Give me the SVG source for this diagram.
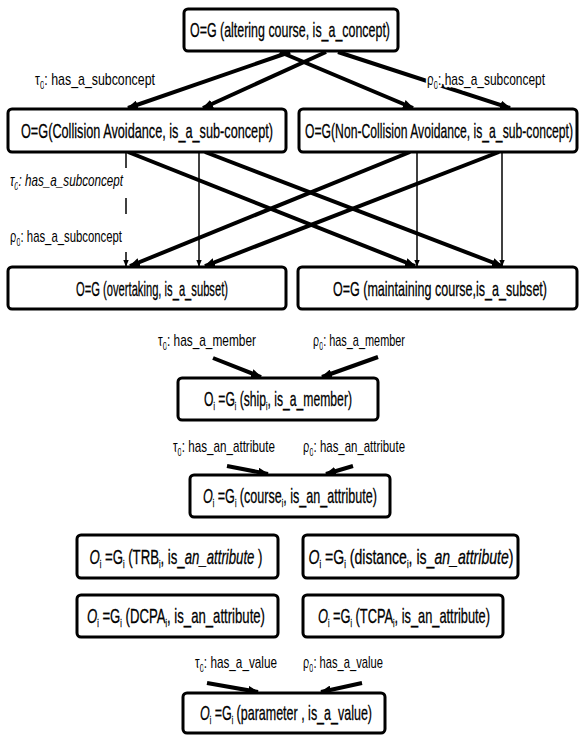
<svg xmlns="http://www.w3.org/2000/svg" width="580" height="735" viewBox="0 0 580 735">
<defs>
<marker id="ah" viewBox="0 0 10 8" refX="9" refY="4" markerWidth="11" markerHeight="9" markerUnits="userSpaceOnUse" orient="auto"><path d="M0,0 L10,4 L0,8 z" fill="#000"/></marker>
<marker id="ahs" viewBox="0 0 10 8" refX="9" refY="4" markerWidth="7" markerHeight="6" markerUnits="userSpaceOnUse" orient="auto"><path d="M0,0 L10,4 L0,8 z" fill="#000"/></marker>
</defs>
<style>
rect.box{fill:#fff;stroke:#000;stroke-width:3}
text{font-family:"Liberation Sans Narrow","Liberation Sans","DejaVu Sans",sans-serif;font-stretch:condensed;fill:#000}
.bt{font-size:21px;stroke:#000;stroke-width:0.3px}
.lb{font-size:17px;paint-order:stroke;stroke:#fff;stroke-width:5px;stroke-linejoin:round}
.sub{font-size:11px}
.thick{stroke:#000;stroke-width:4;fill:none;marker-end:url(#ah)}
.thin{stroke:#000;stroke-width:1.5;fill:none;marker-end:url(#ahs)}
.thinn{stroke:#000;stroke-width:1.5;fill:none}
</style>
<rect width="580" height="735" fill="#fff"/>

<g id="connectors">
<line class="thick" x1="290" y1="52" x2="128" y2="108"/>
<line class="thick" x1="326" y1="52" x2="203" y2="108"/>
<line class="thick" x1="280" y1="52" x2="413" y2="108"/>
<line class="thick" x1="338" y1="52" x2="510" y2="108"/>
<line class="thick" x1="128" y1="152" x2="415" y2="266"/>
<line class="thick" x1="205" y1="152" x2="502" y2="266"/>
<line class="thick" x1="410" y1="152" x2="130" y2="266"/>
<line class="thick" x1="499" y1="152" x2="205" y2="266"/>
<line class="thin" x1="199" y1="152" x2="199" y2="266"/>
<line class="thin" x1="417" y1="152" x2="417" y2="266"/>
<line class="thin" x1="502" y1="152" x2="502" y2="266"/>
<line class="thinn" x1="126" y1="152" x2="126" y2="168"/>
<line class="thinn" x1="126" y1="198" x2="126" y2="214"/>
<line class="thin" x1="126" y1="252" x2="126" y2="266"/>
<line class="thick" x1="213" y1="358" x2="261" y2="377"/>
<line class="thick" x1="378" y1="357" x2="322" y2="377"/>
<line class="thick" x1="227" y1="466" x2="268" y2="474"/>
<line class="thick" x1="353" y1="466" x2="326" y2="474"/>
<line class="thick" x1="207" y1="683" x2="258" y2="692"/>
<line class="thick" x1="362" y1="683" x2="321" y2="692"/>
</g>

<g id="labels">
<text class="lb" x="35" y="85" textLength="120" lengthAdjust="spacingAndGlyphs">τ<tspan class="sub" dy="4">0</tspan><tspan dy="-4">: has_a_subconcept</tspan></text>
<text class="lb" x="427" y="85" textLength="118" lengthAdjust="spacingAndGlyphs">ρ<tspan class="sub" dy="4">0</tspan><tspan dy="-4">: has_a_subconcept</tspan></text>
<text class="lb" x="10" y="186" textLength="113" lengthAdjust="spacingAndGlyphs" font-style="italic">τ<tspan class="sub" dy="4">0</tspan><tspan dy="-4">: has_a_subconcept</tspan></text>
<text class="lb" x="10" y="242" textLength="112" lengthAdjust="spacingAndGlyphs">ρ<tspan class="sub" dy="4">0</tspan><tspan dy="-4">: has_a_subconcept</tspan></text>
<text class="lb" x="158" y="346" textLength="98" lengthAdjust="spacingAndGlyphs">τ<tspan class="sub" dy="4">0</tspan><tspan dy="-4">: has_a_member</tspan></text>
<text class="lb" x="313" y="346" textLength="92" lengthAdjust="spacingAndGlyphs">ρ<tspan class="sub" dy="4">0</tspan><tspan dy="-4">: has_a_member</tspan></text>
<text class="lb" x="173" y="452" textLength="102" lengthAdjust="spacingAndGlyphs">τ<tspan class="sub" dy="4">0</tspan><tspan dy="-4">: has_an_attribute</tspan></text>
<text class="lb" x="303" y="452" textLength="102" lengthAdjust="spacingAndGlyphs">ρ<tspan class="sub" dy="4">0</tspan><tspan dy="-4">: has_an_attribute</tspan></text>
<text class="lb" x="195" y="668" textLength="82" lengthAdjust="spacingAndGlyphs">τ<tspan class="sub" dy="4">0</tspan><tspan dy="-4">: has_a_value</tspan></text>
<text class="lb" x="303" y="668" textLength="80" lengthAdjust="spacingAndGlyphs">ρ<tspan class="sub" dy="4">0</tspan><tspan dy="-4">: has_a_value</tspan></text>
</g>

<g id="n-altering">
<rect class="box" x="184" y="9" width="214" height="42" rx="4"/>
<text class="bt" x="290" y="37" text-anchor="middle" textLength="200" lengthAdjust="spacingAndGlyphs">O=G (altering course, is_a_concept)</text>
</g>
<g id="n-collision">
<rect class="box" x="8" y="109" width="278" height="43" rx="4"/>
<text class="bt" x="147" y="138" text-anchor="middle" textLength="252" lengthAdjust="spacingAndGlyphs">O=G(Collision Avoidance, is_a_sub-concept)</text>
</g>
<g id="n-noncollision">
<rect class="box" x="299" y="109" width="278" height="43" rx="4"/>
<text class="bt" x="439" y="138" text-anchor="middle" textLength="268" lengthAdjust="spacingAndGlyphs">O=G(Non-Collision Avoidance, is_a_sub-concept)</text>
</g>
<g id="n-overtaking">
<rect class="box" x="8" y="267" width="278" height="42" rx="4"/>
<text class="bt" x="152" y="296" text-anchor="middle" textLength="152" lengthAdjust="spacingAndGlyphs">O=G (overtaking, is_a_subset)</text>
</g>
<g id="n-maintaining">
<rect class="box" x="298" y="267" width="279" height="42" rx="4"/>
<text class="bt" x="440" y="296" text-anchor="middle" textLength="214" lengthAdjust="spacingAndGlyphs">O=G (maintaining course,is_a_subset)</text>
</g>
<g id="n-ship">
<rect class="box" x="178" y="378" width="200" height="42" rx="4"/>
<text class="bt" x="278" y="406" text-anchor="middle" textLength="148" lengthAdjust="spacingAndGlyphs">O<tspan class="sub" dy="4">i</tspan><tspan dy="-4"> =G</tspan><tspan class="sub" dy="4">i</tspan><tspan dy="-4"> (ship</tspan><tspan class="sub" dy="4">i</tspan><tspan dy="-4">, is_a_member)</tspan></text>
</g>
<g id="n-course">
<rect class="box" x="190" y="475" width="200" height="42" rx="4"/>
<text class="bt" x="290" y="503" text-anchor="middle" textLength="174" lengthAdjust="spacingAndGlyphs"><tspan font-style="italic">O</tspan><tspan class="sub" dy="4">i</tspan><tspan dy="-4"> =G</tspan><tspan class="sub" dy="4">i</tspan><tspan dy="-4"> (course</tspan><tspan class="sub" dy="4">i</tspan><tspan dy="-4">, is_an_attribute)</tspan></text>
</g>
<g id="n-trb">
<rect class="box" x="77" y="535" width="201" height="43" rx="4"/>
<text class="bt" x="176" y="564" text-anchor="middle" textLength="173" lengthAdjust="spacingAndGlyphs"><tspan font-style="italic">O</tspan><tspan class="sub" dy="4">i</tspan><tspan dy="-4"> =G</tspan><tspan class="sub" dy="4">i</tspan><tspan dy="-4"> (TRB</tspan><tspan class="sub" dy="4">i</tspan><tspan dy="-4">, is_</tspan><tspan font-style="italic">an_attribute</tspan> )</text>
</g>
<g id="n-distance">
<rect class="box" x="303" y="535" width="215" height="43" rx="4"/>
<text class="bt" x="411" y="564" text-anchor="middle" textLength="205" lengthAdjust="spacingAndGlyphs"><tspan font-style="italic">O</tspan><tspan class="sub" dy="4">i</tspan><tspan dy="-4"> =G</tspan><tspan class="sub" dy="4">i</tspan><tspan dy="-4"> (distance</tspan><tspan class="sub" dy="4">i</tspan><tspan dy="-4">, is_</tspan><tspan font-style="italic">an_attribute</tspan>)</text>
</g>
<g id="n-dcpa">
<rect class="box" x="77" y="595" width="201" height="42" rx="4"/>
<text class="bt" x="176" y="623" text-anchor="middle" textLength="178" lengthAdjust="spacingAndGlyphs"><tspan font-style="italic">O</tspan><tspan class="sub" dy="4">i</tspan><tspan dy="-4"> =G</tspan><tspan class="sub" dy="4">i</tspan><tspan dy="-4"> (DCPA</tspan><tspan class="sub" dy="4">i</tspan><tspan dy="-4">, is_an_attribute)</tspan></text>
</g>
<g id="n-tcpa">
<rect class="box" x="303" y="595" width="200" height="42" rx="4"/>
<text class="bt" x="404" y="623" text-anchor="middle" textLength="172" lengthAdjust="spacingAndGlyphs"><tspan font-style="italic">O</tspan><tspan class="sub" dy="4">i</tspan><tspan dy="-4"> =G</tspan><tspan class="sub" dy="4">i</tspan><tspan dy="-4"> (TCPA</tspan><tspan class="sub" dy="4">i</tspan><tspan dy="-4">, is_an_attribute)</tspan></text>
</g>
<g id="n-parameter">
<rect class="box" x="183" y="693" width="202" height="40" rx="4"/>
<text class="bt" x="286" y="720" text-anchor="middle" textLength="172" lengthAdjust="spacingAndGlyphs"><tspan font-style="italic">O</tspan><tspan class="sub" dy="4">i</tspan><tspan dy="-4"> =G</tspan><tspan class="sub" dy="4">i</tspan><tspan dy="-4"> (parameter , is_a_value)</tspan></text>
</g>
</svg>
